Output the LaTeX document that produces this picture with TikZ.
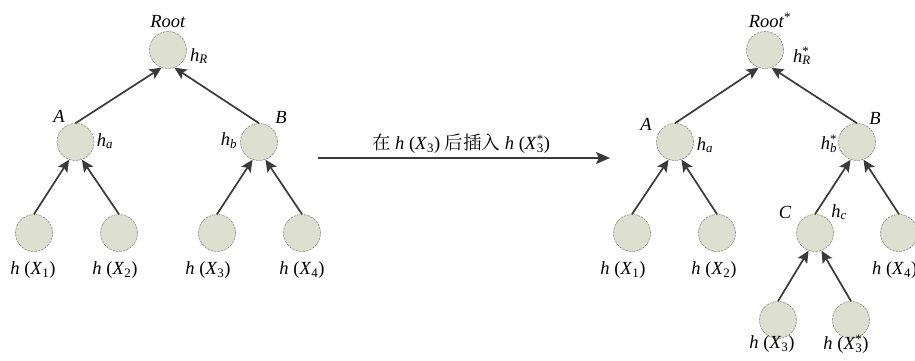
\documentclass[tikz,border=0pt]{standalone}
\usepackage{fontspec}
\setmainfont{Liberation Serif}
\newfontfamily\cjk{Noto Serif CJK SC}
\usetikzlibrary{arrows.meta}
\definecolor{nodefill}{RGB}{221,224,209}
\definecolor{nodeedge}{RGB}{140,140,135}
\definecolor{arrowcol}{RGB}{58,58,58}
\newcommand{\supsub}[2]{\ooalign{\textsuperscript{#1}\cr\textsubscript{#2}}}
\newcommand{\hX}[1]{\textit{h} (\textit{X}\textsubscript{#1})}
\newcommand{\hXs}[1]{\textit{h} (\textit{X}\supsub{*}{#1})}
\tikzset{
  tn/.style={circle, minimum size=37pt, inner sep=0pt, fill=nodefill, draw=nodeedge, line width=0.6pt, dash pattern=on 2.5pt off 1pt},
  lbl/.style={inner sep=0pt, font=\fontsize{18.5}{21}\selectfont},
  edge/.style={draw=arrowcol, line width=1.7pt, -{Stealth[length=12pt,width=11pt,inset=2.5pt]}},
  bigarrow/.style={draw=arrowcol, line width=1.6pt, -{Stealth[length=14pt,width=12pt,inset=3pt]}}
}
\begin{document}
\begin{tikzpicture}[x=1pt,y=-1pt]
\useasboundingbox (0,0) rectangle (915,361);
\clip (0,0) rectangle (915,361);
% ---------- left tree ----------
\node[tn] (r) at (168,50) {};
\node[tn] (a) at (75.5,142) {};
\node[tn] (b) at (259,142) {};
\node[tn] (x1) at (34,233) {};
\node[tn] (x2) at (119,233) {};
\node[tn] (x3) at (217,233) {};
\node[tn] (x4) at (302,233) {};
\node[lbl] (lr) at (168,22) {\textit{Root}};
\node[lbl] (lhr) at (199,56) {\textit{h}\textsubscript{\textit{R}}};
\node[lbl] (la) at (59,116) {\textit{A}};
\node[lbl] (lha) at (105,141) {\textit{h}\textsubscript{\textit{a}}};
\node[lbl] (lhb) at (229,141) {\textit{h}\textsubscript{\textit{b}}};
\node[lbl] (lb) at (281,117) {\textit{B}};
\node[lbl] (l1) at (33,270) {\hX{1}};
\node[lbl] (l2) at (115,270) {\hX{2}};
\node[lbl] (l3) at (208,270) {\hX{3}};
\node[lbl] (l4) at (302,270) {\hX{4}};
\draw[edge] (a.north) -- (r.250);
\draw[edge] (b.north) -- (r.290);
\draw[edge] (x1.north) -- (a.250);
\draw[edge] (x2.north) -- (a.290);
\draw[edge] (x3.north) -- (b.250);
\draw[edge] (x4.north) -- (b.290);
% ---------- main arrow ----------
\coordinate (ms) at (318,158);
\coordinate (me) at (610,158);
\draw[bigarrow] (ms) -- (me);
\node[lbl] (ml) at (461,144) {{\cjk 在} \hX{3} {\cjk 后插入} \hXs{3}};
% ---------- right tree ----------
\node[tn] (rr) at (765,50) {};
\node[tn] (ra) at (675,142) {};
\node[tn] (rb) at (857,142) {};
\node[tn] (ry1) at (632,233) {};
\node[tn] (ry2) at (717,233) {};
\node[tn] (rc) at (815,233) {};
\node[tn] (ry4) at (899,233) {};
\node[tn] (ry3) at (778,320) {};
\node[tn] (ry3s) at (851,320) {};
\node[lbl] (lrr) at (770,20) {\textit{Root}\textsuperscript{*}};
\node[lbl] (lrhr) at (802,56) {\textit{h}\supsub{*}{\textit{R}}};
\node[lbl] (lra) at (646,124) {\textit{A}};
\node[lbl] (lrha) at (705,145) {\textit{h}\textsubscript{\textit{a}}};
\node[lbl] (lrhb) at (829,144) {\textit{h}\supsub{*}{\textit{b}}};
\node[lbl] (lrb) at (875,118) {\textit{B}};
\node[lbl] (lrc) at (785,212) {\textit{C}};
\node[lbl] (lrhc) at (839,212) {\textit{h}\textsubscript{\textit{c}}};
\node[lbl] (lr1) at (623,270) {\hX{1}};
\node[lbl] (lr2) at (714,270) {\hX{2}};
\node[lbl, anchor=west] (lr4) at (872,270) {\hX{4}};
\node[lbl] (lr3) at (772,344) {\hX{3}};
\node[lbl] (lr3s) at (846,344) {\hXs{3}};
\draw[edge] (ra.north) -- (rr.250);
\draw[edge] (rb.north) -- (rr.290);
\draw[edge] (ry1.north) -- (ra.250);
\draw[edge] (ry2.north) -- (ra.290);
\draw[edge] (rc.north) -- (rb.250);
\draw[edge] (ry4.north) -- (rb.290);
\draw[edge] (ry3.north) -- (rc.250);
\draw[edge] (ry3s.north) -- (rc.290);
\end{tikzpicture}
\end{document}
